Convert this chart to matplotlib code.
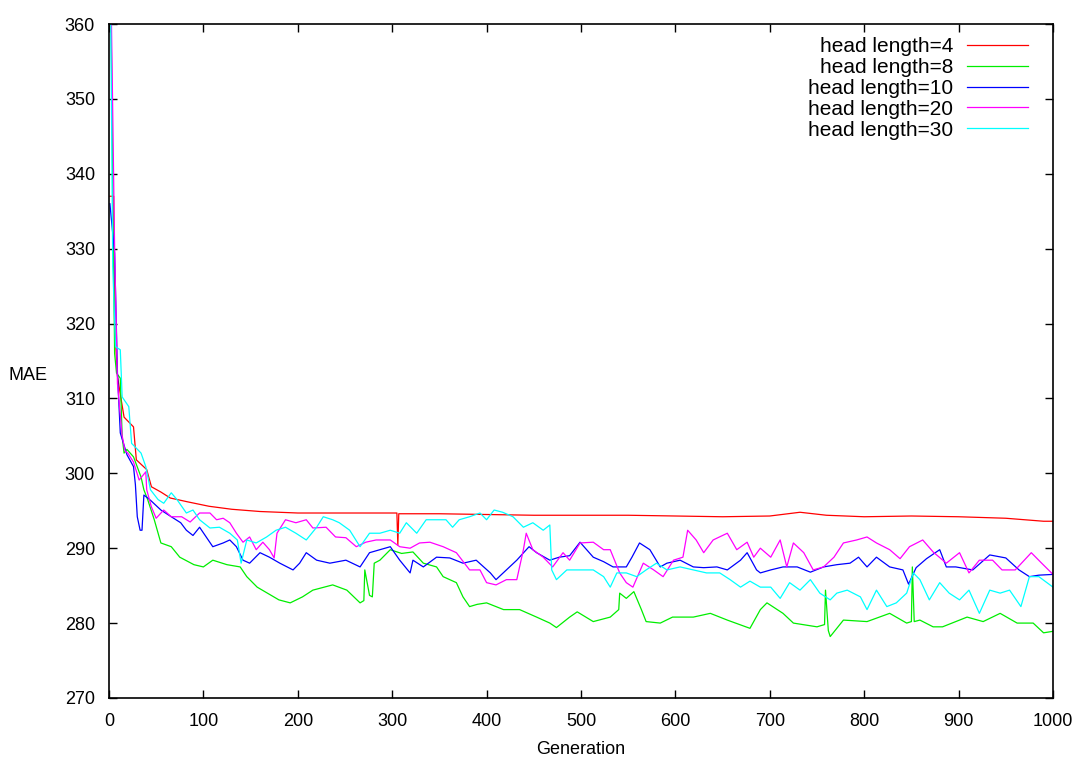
import matplotlib
matplotlib.use("Agg")
import matplotlib.pyplot as plt

plt.rcParams['font.family'] = ['Liberation Sans', 'DejaVu Sans']

# values (generation, MAE)
gen_hl4 = [1, 5, 6, 9, 13, 16, 26, 29, 40, 45, 55, 65, 83, 106, 130, 160, 200, 250, 300, 305, 306, 307,
           320, 350, 400, 450, 500, 550, 600, 650, 700, 732, 760, 800, 850, 900, 950, 990, 1000]
mae_hl4 = [337, 337, 320, 313, 309.8, 307.5, 306.2, 301.8, 300.5, 298.2, 297.5, 296.7, 296.2, 295.6, 295.2,
           294.9, 294.7, 294.7, 294.7, 294.7, 290.4, 294.6, 294.6, 294.6, 294.5, 294.4, 294.4, 294.4, 294.3,
           294.2, 294.3, 294.8, 294.4, 294.2, 294.3, 294.2, 294.0, 293.6, 293.6]

gen_hl8 = [1, 6, 8, 12, 14, 16, 19, 26, 34, 37, 41, 48, 55, 66, 75, 90, 100, 110, 125, 139, 146, 157, 180,
           192, 205, 216, 237, 252, 266, 270, 271, 276, 279, 281, 287, 298, 310, 322, 333, 347, 354, 368,
           375, 382, 390, 400, 418, 435, 453, 467, 474, 488, 496, 513, 531, 540, 541, 548, 556, 564, 569,
           584, 597, 619, 637, 655, 679, 690, 697, 714, 725, 750, 758, 759, 762, 764, 778, 803, 827, 845,
           850, 851, 853, 859, 873, 883, 909, 926, 944, 962, 979, 990, 1000]
mae_hl8 = [375, 316, 313.4, 312.7, 304.9, 302.7, 303.2, 302.2, 299.5, 297.8, 296.5, 293.8, 290.7, 290.2,
           288.8, 287.8, 287.5, 288.4, 287.8, 287.5, 286.2, 284.8, 283.1, 282.7, 283.5, 284.4, 285.1, 284.4,
           282.7, 283.0, 287.1, 283.7, 283.5, 288.0, 288.4, 289.8, 289.3, 289.5, 288.0, 287.5, 286.2, 285.4,
           283.5, 282.2, 282.5, 282.7, 281.8, 281.8, 280.8, 280.0, 279.4, 280.8, 281.5, 280.2, 280.8, 281.8,
           284.0, 283.3, 284.2, 281.8, 280.2, 280.0, 280.8, 280.8, 281.3, 280.4, 279.3, 281.8, 282.7, 281.3,
           280.0, 279.5, 279.8, 284.4, 279.0, 278.2, 280.4, 280.2, 281.3, 280.0, 280.2, 287.5, 280.2, 280.4,
           279.5, 279.5, 280.8, 280.2, 281.3, 280.0, 280.0, 278.7, 278.9]

gen_hl10 = [1, 6, 9, 12, 19, 26, 28, 30, 33, 35, 37, 44, 55, 66, 76, 82, 89, 96, 103, 110, 121, 128, 135,
            142, 149, 160, 170, 181, 195, 202, 209, 220, 234, 251, 266, 276, 287, 298, 308, 319, 322, 333,
            347, 361, 375, 389, 404, 410, 421, 432, 445, 453, 467, 477, 488, 499, 513, 524, 534, 548, 554,
            562, 573, 584, 591, 605, 619, 630, 644, 655, 669, 676, 686, 690, 701, 714, 729, 743, 757, 771,
            785, 794, 803, 813, 827, 841, 847, 855, 866, 880, 887, 897, 915, 933, 950, 964, 975, 985, 1000]
mae_hl10 = [336, 329.4, 313.4, 305.4, 302.5, 300.9, 298.5, 294.2, 292.4, 292.4, 297.1, 296.4, 295.1, 294.2,
            293.4, 292.4, 291.7, 292.8, 291.5, 290.2, 290.7, 291.1, 290.2, 288.4, 288.0, 289.4, 288.8, 288.0,
            287.1, 288.0, 289.4, 288.4, 288.0, 288.4, 287.5, 289.4, 289.8, 290.2, 288.4, 286.7, 288.4, 287.5,
            288.8, 288.7, 288.0, 288.4, 286.7, 285.8, 287.1, 288.4, 290.2, 289.4, 288.4, 288.8, 289.0, 290.8,
            288.8, 288.2, 287.5, 287.5, 288.8, 290.7, 289.8, 287.5, 288.0, 288.4, 287.5, 287.4, 287.5, 287.1,
            288.4, 289.4, 287.1, 286.7, 287.1, 287.5, 287.5, 286.8, 287.5, 287.8, 288.0, 288.8, 287.5, 288.8,
            287.5, 287.1, 285.2, 287.4, 288.6, 289.8, 287.5, 287.5, 287.1, 289.1, 288.7, 287.1, 286.2, 286.4,
            286.5]

gen_hl20 = [1, 6, 9, 14, 17, 20, 26, 32, 39, 40, 45, 50, 58, 66, 77, 86, 96, 107, 114, 121, 128, 135, 142,
            149, 156, 163, 170, 175, 178, 187, 198, 209, 216, 230, 240, 251, 262, 272, 283, 298, 308, 319,
            329, 340, 354, 368, 382, 393, 400, 410, 421, 432, 439, 442, 449, 460, 470, 481, 488, 499, 513,
            524, 531, 541, 548, 555, 566, 577, 587, 598, 608, 613, 622, 630, 640, 655, 665, 676, 683, 690,
            701, 711, 718, 725, 736, 746, 757, 768, 778, 792, 803, 813, 827, 838, 848, 862, 873, 887, 901,
            911, 922, 936, 946, 960, 977, 988, 1000]
mae_hl20 = [375, 330, 312, 305, 303, 302.7, 301.5, 299.1, 300.2, 297.8, 295.5, 294.0, 295.1, 294.2, 294.2,
            293.5, 294.7, 294.7, 293.8, 294.0, 293.4, 292.0, 290.8, 291.5, 289.8, 290.8, 289.8, 288.7, 292.0,
            293.8, 293.4, 293.8, 292.7, 292.8, 291.5, 291.4, 290.2, 290.8, 291.1, 291.1, 290.2, 290.0, 290.7,
            290.8, 290.2, 289.4, 287.1, 287.1, 285.4, 285.1, 285.8, 285.8, 289.8, 292.0, 289.8, 288.8, 287.5,
            289.4, 288.4, 290.7, 290.8, 289.8, 289.8, 286.7, 285.4, 284.8, 288.0, 287.1, 286.2, 288.4, 288.8,
            292.4, 291.1, 289.4, 291.1, 292.0, 289.8, 290.8, 288.8, 290.0, 288.8, 291.1, 287.5, 290.7, 289.4,
            287.1, 287.5, 288.8, 290.7, 291.1, 291.5, 290.7, 289.8, 288.6, 290.2, 291.1, 289.5, 288.0, 289.4,
            286.7, 288.4, 288.4, 287.1, 287.1, 289.4, 288.0, 286.5]

gen_hl30 = [1, 4, 7, 12, 14, 21, 24, 34, 39, 44, 52, 58, 66, 72, 82, 89, 96, 107, 117, 128, 136, 140, 146,
            156, 167, 177, 187, 198, 209, 220, 227, 237, 244, 255, 266, 276, 287, 298, 308, 315, 326, 336,
            347, 357, 364, 371, 382, 393, 400, 408, 417, 428, 439, 449, 460, 467, 469, 474, 485, 499, 513,
            524, 531, 538, 548, 559, 569, 580, 591, 605, 619, 633, 647, 658, 669, 679, 690, 701, 711, 721,
            732, 743, 753, 764, 771, 782, 796, 803, 813, 824, 834, 845, 852, 859, 869, 880, 890, 901, 911,
            922, 933, 944, 954, 966, 975, 985, 1000]
mae_hl30 = [375, 327.6, 316.9, 316.5, 310.2, 308.9, 304.0, 302.7, 300.9, 297.8, 296.5, 296.0, 297.4, 296.5,
            294.7, 295.1, 293.8, 292.7, 292.8, 292.0, 291.1, 288.0, 291.1, 290.7, 291.5, 292.4, 292.8, 292.0,
            291.1, 292.8, 294.2, 293.8, 293.4, 292.4, 290.2, 292.0, 292.0, 292.4, 292.0, 293.4, 292.0, 293.8,
            293.8, 293.8, 292.8, 293.8, 294.2, 294.7, 293.8, 295.1, 294.8, 294.2, 292.8, 293.4, 292.4, 293.1,
            287.1, 285.8, 287.1, 287.1, 287.1, 286.2, 284.8, 286.7, 286.7, 286.2, 287.1, 288.0, 287.1, 287.5,
            287.1, 286.7, 286.7, 285.8, 284.8, 285.6, 284.8, 284.8, 283.3, 285.4, 284.4, 285.8, 284.0, 283.1,
            284.0, 284.4, 283.5, 281.8, 284.4, 282.2, 282.7, 284.0, 286.7, 285.8, 283.1, 285.4, 284.0, 283.1,
            284.4, 281.3, 284.4, 284.0, 284.4, 282.2, 286.2, 286.2, 284.8]

series = [
    ('head length=4', gen_hl4, mae_hl4, '#ff0000'),
    ('head length=8', gen_hl8, mae_hl8, '#00ee00'),
    ('head length=10', gen_hl10, mae_hl10, '#0000ff'),
    ('head length=20', gen_hl20, mae_hl20, '#ff00ff'),
    ('head length=30', gen_hl30, mae_hl30, '#00ffff'),
]

fig = plt.figure(figsize=(10.82, 7.58), dpi=100)
ax = fig.add_axes([0.1007, 0.0792, 0.8725, 0.8891])

for label, g, m, c in series:
    ax.plot(g, m, color=c, lw=0.9, label=label)

ax.set_xlim(0, 1000)
ax.set_ylim(270, 360)
ax.set_xticks(range(0, 1001, 100))
ax.set_yticks(range(270, 361, 10))
ax.tick_params(direction='in', length=6, width=1, labelsize=13, top=True, right=True)
ax.tick_params(axis='y', pad=10)
ax.tick_params(axis='x', pad=10.5)
for s in ax.spines.values():
    s.set_linewidth(1.2)

ax.set_xlabel('Generation', fontsize=13, labelpad=8)
ax.set_ylabel('MAE', fontsize=13, rotation=0, ha='center', va='center')
ax.yaxis.set_label_coords(-0.0858, 0.478)

leg = ax.legend(loc='upper right', markerfirst=False, frameon=False, fontsize=15,
                handlelength=2.9, labelspacing=0.09, handletextpad=0.67,
                borderaxespad=0.23, bbox_to_anchor=(0.987, 1.0))

fig.savefig('out.png', dpi=100)
